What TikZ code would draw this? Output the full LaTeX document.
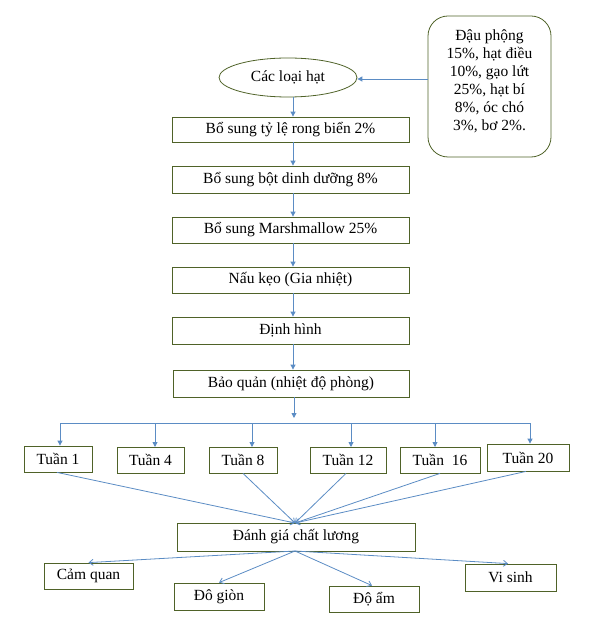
\documentclass[tikz,border=0pt]{standalone}
\usepackage{fontspec}
\setmainfont{Liberation Serif}
\usetikzlibrary{arrows.meta,shapes.geometric}
\definecolor{boxc}{HTML}{4F6228}
\definecolor{arrc}{HTML}{5B8CC4}
\newcommand{\fs}{\fontsize{15.5pt}{18pt}\selectfont}
\tikzset{
  box/.style={draw=boxc, line width=0.8pt, rectangle, inner sep=0pt, font=\fs},
  arr/.style={draw=arrc, line width=0.9pt, -{Triangle[length=5pt,width=5pt]}},
  barb/.style={draw=arrc, line width=0.8pt, -{Straight Barb[length=4pt,width=6pt]}},
  ln/.style={draw=arrc, line width=0.9pt}
}
\begin{document}
\begin{tikzpicture}[x=1pt,y=-1pt]
\useasboundingbox (0,0) rectangle (593,628);
% top
\node[box, ellipse, minimum width=138pt, minimum height=39pt] (hat) at (288,77.5) {Các loại hạt};
\node[box, rounded corners=20pt, minimum width=123pt, minimum height=141pt] (tl) at (489.5,86.5) {};
\node[font=\fs, align=center, inner sep=0pt] (tltext) at (489.5,81) {Đậu phộng\\15\%, hạt điều\\10\%, gạo lứt\\25\%, hạt bí\\8\%, óc chó\\3\%, bơ 2\%.};
\draw[arr] (tl.west |- 0,79) -- (hat.east |- 0,79);
% chain
\node[box, minimum width=237pt, minimum height=25pt] (b1) at (290.5,129.5) {Bổ sung tỷ lệ rong biển 2\%};
\node[box, minimum width=237pt, minimum height=27pt] (b2) at (290.5,179.5) {Bổ sung bột dinh dưỡng 8\%};
\node[box, minimum width=237pt, minimum height=26pt] (b3) at (290.5,230) {Bổ sung Marshmallow 25\%};
\node[box, minimum width=237pt, minimum height=26pt] (b4) at (290.5,280) {Nấu kẹo (Gia nhiệt)};
\node[box, minimum width=237pt, minimum height=27pt] (b5) at (290.5,330.5) {Định hình};
\node[box, minimum width=236pt, minimum height=27pt] (b6) at (291,383.5) {Bảo quản (nhiệt độ phòng)};
\coordinate (cx) at (293,0);
\draw[arr] (hat.south -| cx) -- (b1.north -| cx);
\draw[arr] (b1.south -| cx) -- (b2.north -| cx);
\draw[arr] (b2.south -| cx) -- (b3.north -| cx);
\draw[arr] (b3.south -| cx) -- (b4.north -| cx);
\draw[arr] (b4.south -| cx) -- (b5.north -| cx);
\draw[arr] (b5.south -| cx) -- (b6.north -| cx);
% weeks
\node[box, minimum width=68pt, minimum height=26pt] (t1) at (58,459) {Tuần 1};
\node[box, minimum width=67pt, minimum height=26pt] (t4) at (150.5,460) {Tuần 4};
\node[box, minimum width=68pt, minimum height=26pt] (t8) at (243,460) {Tuần 8};
\node[box, minimum width=76pt, minimum height=26pt] (t12) at (348,460) {Tuần 12};
\node[box, minimum width=80pt, minimum height=26pt] (t16) at (440,460) {Tuần~ 16};
\node[box, minimum width=82pt, minimum height=27pt] (t20) at (528,457.5) {Tuần 20};
\coordinate (jt) at (294,418);
\coordinate (bl) at (60,423);
\coordinate (br) at (530,423);
\draw[arr] (b6.south -| jt) -- (jt);
\draw[ln] (bl) -- (br);
\draw[arr] (bl) -- (bl |- t1.north);
\draw[arr] (155,423) -- (155,447);
\draw[arr] (252,423) -- (252,447);
\draw[arr] (351,423) -- (351,447);
\draw[arr] (435,423) -- (435,447);
\draw[arr] (br) -- (br |- t20.north);
% evaluation
\node[box, minimum width=238pt, minimum height=28pt] (dg) at (296,537) {Đánh giá chất lương};
\coordinate (dgt) at (295,523);
\draw[barb] (t1.south -| 57,0) -- (dgt);
\draw[barb] (t8.south) -- (dgt);
\draw[barb] (t12.south -| 346,0) -- (dgt);
\draw[barb] (t16.south) -- (dgt);
\draw[barb] (t20.south -| 526,0) -- (dgt);
\node[box, minimum width=89pt, minimum height=26pt] (cq) at (88.5,576) {Cảm quan};
\node[box, minimum width=90pt, minimum height=27pt] (dgi) at (219,596.5) {Đô giòn};
\node[box, minimum width=90pt, minimum height=26pt] (da) at (374,599) {Độ ẩm};
\node[box, minimum width=91pt, minimum height=27pt] (vs) at (510.5,577.5) {Vi sinh};
\coordinate (dgb) at (295,551);
\draw[barb] (dgb) -- (cq.north);
\draw[barb] (dgb) -- (dgi.north);
\draw[barb] (dgb) -- (da.north -| 372,0);
\draw[barb] (dgb) -- (vs.north -| 508,0);
\end{tikzpicture}
\end{document}
